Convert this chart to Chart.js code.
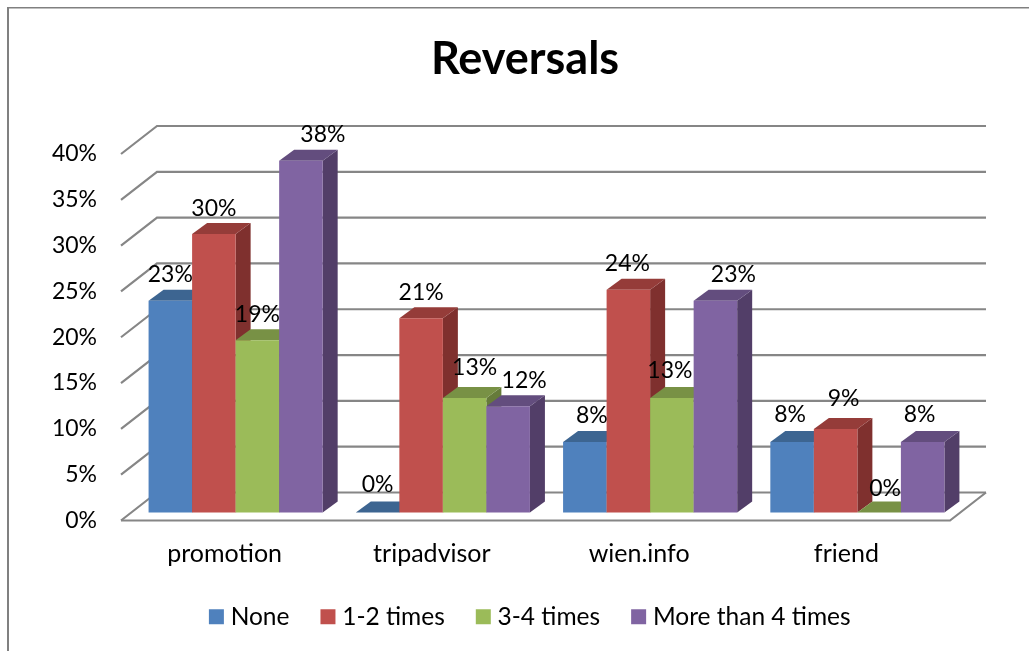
<!DOCTYPE html>
<html>
<head>
<meta charset="utf-8">
<title>Reversals</title>
<style>
  html, body { margin: 0; padding: 0; background: #fff; }
  canvas { display: block; }
</style>
<script src="https://cdn.jsdelivr.net/npm/chart.js@4/dist/chart.umd.min.js"></script>
</head>
<body>
<canvas id="chart" width="1029" height="651"></canvas>
<script>
const categories = ['promotion', 'tripadvisor', 'wien.info', 'friend'];
const seriesNames = ['None', '1-2 times', '3-4 times', 'More than 4 times'];
const none = [23.1, 0, 7.7, 7.7];
const oneTwo = [30.4, 21.2, 24.3, 9.1];
const threeFour = [18.8, 12.5, 12.5, 0];
const moreThanFour = [38.4, 11.6, 23.1, 7.7];

const frontColors = ['#4f81bd', '#c0504d', '#9bbb59', '#8064a2'];
const topColors = ['#3d6591', '#953c39', '#789145', '#634d7e'];
const sideColors = ['#335580', '#7f302e', '#667b3a', '#523e68'];

// hand placed labels in the original, [dx, dy] from the centre above each bar
const labelNudge = [
  [[0, 1], [0, -1], [7, 1], [-2, 0]],
  [[0, 2], [0, 1], [-1, 1], [8, -4]],
  [[0, 1], [10, -3], [-2, 0], [6, 3]],
  [[22, 1], [16, 1], [18, 1], [-3, 0]]
];

const FONT = 'Lato, "Open Sans", sans-serif';
const GRID = '#868686';
// room between the front of the box and its back wall
const WALL_X = 36, WALL_Y = 28;
// where the bars stand inside that room, and how deep they are
const BAR_X = 11, BAR_Y = 8, DEPTH_X = 15, DEPTH_Y = 11;

const box3d = {
  id: 'box3d',
  beforeDraw(chart) {
    const ctx = chart.ctx;
    ctx.save();
    ctx.fillStyle = '#808080';
    ctx.fillRect(7, 7, chart.width - 7, 1.5);
    ctx.fillRect(7, 7, 2, chart.height - 7);
    ctx.restore();
  },
  afterLayout(chart) {
    // the right padding pushes these left, put them back over the picture
    chart.titleBlock.left = 0;
    chart.titleBlock.right = 1050;
    chart.legend.left = 0;
    chart.legend.right = 1065;
    chart.legend._computeTitleHeight();
  },
  beforeDatasetsDraw(chart) {
    const ctx = chart.ctx;
    const { left, right } = chart.chartArea;
    const y = chart.scales.y;

    // walls
    ctx.save();
    ctx.strokeStyle = GRID;
    ctx.lineWidth = 2.2;
    y.ticks.forEach(t => {
      const py = y.getPixelForValue(t.value);
      ctx.beginPath();
      ctx.moveTo(left, py);
      ctx.lineTo(left + WALL_X, py - WALL_Y);
      ctx.lineTo(right + WALL_X, py - WALL_Y);
      ctx.stroke();
    });
    // floor
    const y0 = y.getPixelForValue(0);
    ctx.beginPath();
    ctx.moveTo(left, y0);
    ctx.lineTo(right, y0);
    ctx.lineTo(right + WALL_X, y0 - WALL_Y);
    ctx.stroke();
    ctx.restore();

    // bars, first series first so the later ones cover its side
    chart.data.datasets.forEach((ds, i) => {
      const meta = chart.getDatasetMeta(i);
      ctx.save();
      ctx.translate(BAR_X, -BAR_Y);
      meta.data.forEach(bar => {
        const l = bar.x - bar.width / 2, r = bar.x + bar.width / 2;
        ctx.fillStyle = sideColors[i];
        ctx.beginPath();
        ctx.moveTo(r, bar.y);
        ctx.lineTo(r + DEPTH_X, bar.y - DEPTH_Y);
        ctx.lineTo(r + DEPTH_X, bar.base - DEPTH_Y);
        ctx.lineTo(r, bar.base);
        ctx.closePath();
        ctx.fill();
        ctx.fillStyle = topColors[i];
        ctx.beginPath();
        ctx.moveTo(l, bar.y);
        ctx.lineTo(l + DEPTH_X, bar.y - DEPTH_Y);
        ctx.lineTo(r + DEPTH_X, bar.y - DEPTH_Y);
        ctx.lineTo(r, bar.y);
        ctx.closePath();
        ctx.fill();
      });
      meta.controller.draw();
      ctx.restore();
    });

    // value labels
    ctx.save();
    ctx.fillStyle = '#000';
    ctx.font = '23px ' + FONT;
    ctx.textAlign = 'center';
    ctx.textBaseline = 'middle';
    chart.data.datasets.forEach((ds, i) => {
      chart.getDatasetMeta(i).data.forEach((bar, j) => {
        const n = labelNudge[i][j];
        ctx.fillText(Math.round(ds.data[j]) + '%', bar.x + BAR_X + n[0], bar.y - BAR_Y - 27 + n[1]);
      });
    });
    ctx.restore();
    return false;
  }
};

const values = [none, oneTwo, threeFour, moreThanFour];

new Chart(document.getElementById('chart'), {
  type: 'bar',
  data: {
    labels: categories,
    datasets: seriesNames.map((name, i) => ({
      label: name,
      data: values[i],
      backgroundColor: frontColors[i],
      borderWidth: 0
    }))
  },
  options: {
    responsive: false,
    animation: false,
    devicePixelRatio: 1,
    layout: { padding: { right: 79, bottom: 12 } },
    datasets: { bar: { categoryPercentage: 0.84, barPercentage: 1 } },
    scales: {
      x: {
        grid: { display: false },
        border: { display: false },
        ticks: { color: '#000', font: { family: FONT, size: 25 }, padding: 10.5, maxRotation: 0 },
        afterFit(scale) { scale.height = 47.5; }
      },
      y: {
        min: 0,
        max: 40,
        grid: { display: false },
        border: { display: false },
        ticks: {
          stepSize: 5,
          color: '#000',
          padding: 16,
          font: { family: FONT, size: 23 },
          callback: v => v + '%'
        },
        afterFit(scale) { scale.width = 121; }
      }
    },
    plugins: {
      title: {
        display: true,
        text: 'Reversals',
        color: '#000',
        font: { family: FONT, size: 45, weight: 'bold' },
        padding: { top: 32, bottom: 68 }
      },
      legend: {
        position: 'bottom',
        labels: {
          color: '#000',
          font: { family: FONT, size: 24.5 },
          boxWidth: 4,
          boxHeight: 4,
          padding: 36.5,
          // thick outline so the square sits as close to its text as in the original
          generateLabels(chart) {
            return Chart.defaults.plugins.legend.labels.generateLabels(chart).map(item => ({
              ...item, strokeStyle: item.fillStyle, lineWidth: 11
            }));
          }
        }
      },
      tooltip: { enabled: false }
    }
  },
  plugins: [box3d]
});
</script>
</body>
</html>
